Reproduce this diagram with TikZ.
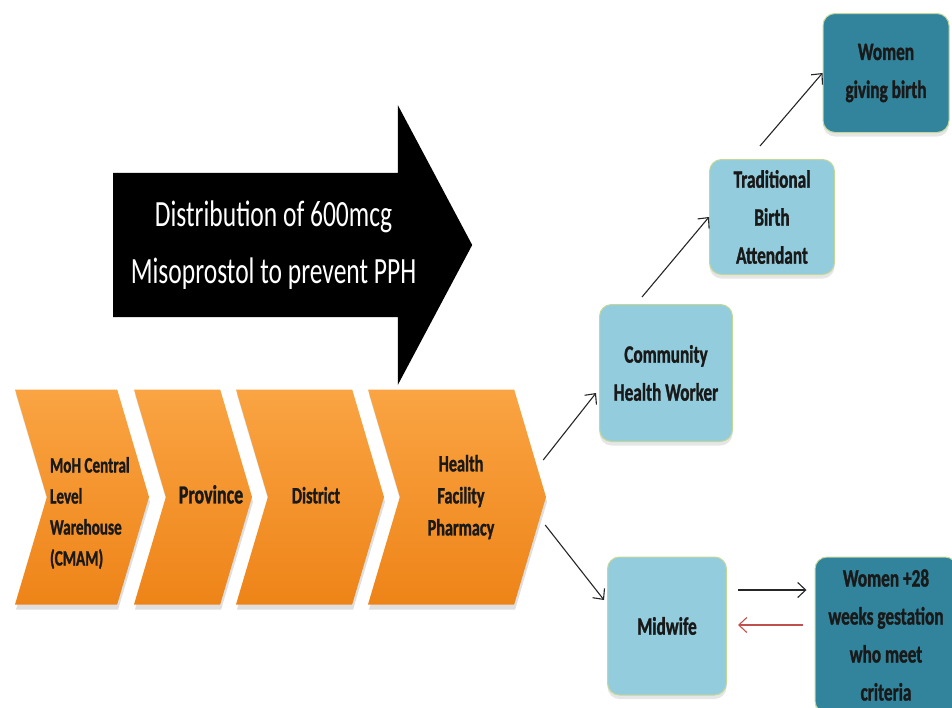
\documentclass[tikz,border=0pt]{standalone}
\usepackage{fontspec}
\setmainfont{Carlito}[FakeStretch=0.69, BoldFeatures={FakeBold=1.2}]
\usepackage{xcolor}
\usepackage{tikz}
\usetikzlibrary{shapes.symbols, shapes.arrows, arrows.meta, positioning, calc, shadows}
\definecolor{orangetop}{HTML}{FAA443}
\definecolor{orangebot}{HTML}{EE8418}
\definecolor{paleblue}{HTML}{93CDDD}
\definecolor{deepteal}{HTML}{31849B}
\definecolor{boxrim}{HTML}{C4D79B}
\definecolor{backred}{HTML}{C0504D}
% stage label that does not widen the chevron
\newcommand{\stagelabel}[2][c]{\makebox[0pt][#1]{\begin{tabular}{@{}#1@{}}#2\end{tabular}}}
\tikzset{
    bigarrow/.style={
        single arrow,
        fill=black,
        draw=none,
        minimum height=359pt,
        minimum width=280pt,
        single arrow head extend=42pt,
        single arrow tip angle=124,
        inner sep=0pt,
        text=white,
        align=center,
        font=\fontsize{37}{57}\selectfont
    },
    stage/.style={
        signal,
        signal to=east,
        signal from=west,
        signal pointer angle=147,
        draw=none,
        top color=orangetop,
        bottom color=orangebot,
        minimum height=215pt,
        inner sep=0pt,
        text=black!90,
        font=\bfseries\fontsize{23.5}{32}\selectfont,
        drop shadow={shadow xshift=1pt, shadow yshift=-5pt, opacity=0.25}
    },
    agent/.style={
        rectangle,
        rounded corners=12pt,
        draw=boxrim,
        line width=1pt,
        fill=paleblue,
        align=center,
        text=black!90,
        font=\bfseries\fontsize{25}{38}\selectfont,
        drop shadow={shadow xshift=0pt, shadow yshift=-4pt, opacity=0.2}
    },
    target/.style={
        agent,
        fill=deepteal
    },
    link/.style={
        draw=black!85,
        line width=1.1pt,
        -{Straight Barb[length=8pt,width=15pt]}
    },
    backlink/.style={
        link,
        draw=backred
    }
}

\begin{document}
\begin{tikzpicture}[x=1pt, y=-1pt]

\useasboundingbox (0,0) rectangle (952,707);
\clip (0,0) rectangle (952,707);

% Distribution arrow
\node[bigarrow, anchor=tail] (distarrow) at (113,245) {Distribution of 600mcg\\Misoprostol to prevent PPH};

% Supply chain stages
\node[stage, minimum width=134pt, font=\bfseries\fontsize{22}{31}\selectfont] (moh) at (82,497) {\raisebox{-21pt}[0pt][0pt]{\hspace*{-64pt}\stagelabel[l]{MoH Central\\Level\\Warehouse\\(CMAM)}}};
\node[stage, minimum width=118pt, font=\bfseries\fontsize{26}{32}\selectfont] (prov) at (193,497) {\raisebox{3pt}{\hspace*{36pt}\stagelabel{Province}}};
\node[stage, minimum width=148pt] (dist) at (310,497) {\hspace*{12pt}\stagelabel{District}};
\node[stage, minimum width=178pt] (pharm) at (457,497) {\hspace*{8pt}\stagelabel{Health\\Facility\\Pharmacy}};

% Community branch
\node[agent, minimum width=133pt, minimum height=137pt] (chw) at (666,373) {Community\\Health Worker};
\node[agent, minimum width=125pt, minimum height=115pt] (tba) at (772,217) {Traditional\\Birth\\Attendant};
\node[target, minimum width=126pt, minimum height=119pt] (birth) at (886,73) {Women\\giving birth};

% Midwife branch
\node[agent, minimum width=119pt, minimum height=138pt] (midwife) at (667,626) {Midwife};
\node[target, minimum width=142pt, minimum height=156pt] (preg) at (886,635) {Women +28\\weeks gestation\\who meet\\criteria};

% Links
\draw[link] ($(pharm.east)+(-3,-37)$) -- ($(chw.west)+(-3,20)$);
\draw[link] ($(chw.north)+(-24,-7)$) -- (tba.west);
\draw[link] ($(tba.north)+(-12,-13)$) -- (birth.west);
\draw[link] ($(pharm.east)+(-1,28)$) -- ($(midwife.west)+(-3,-26)$);
\draw[link] ($(midwife.east)+(11,-36)$) -- ($(preg.west)+(-8,-45)$);
\draw[backlink] ($(preg.west)+(-12,-10)$) -- ($(midwife.east)+(11,-1)$);

\end{tikzpicture}
\end{document}
